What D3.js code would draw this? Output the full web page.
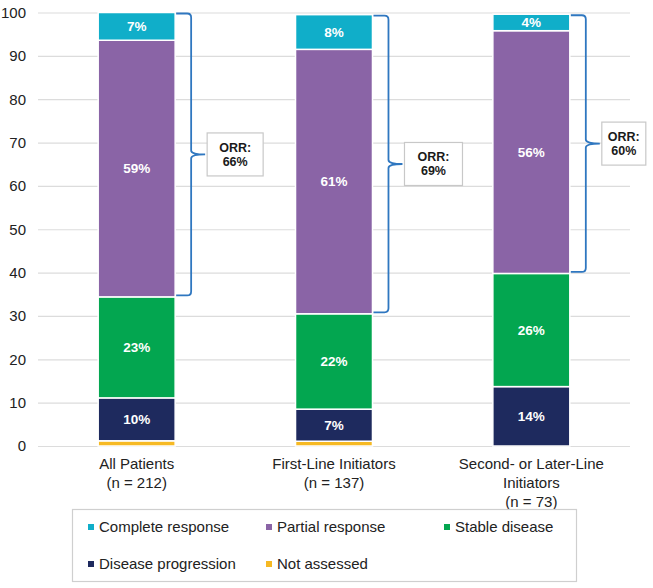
<!DOCTYPE html>
<html>
<head>
<meta charset="utf-8">
<script src="https://cdn.jsdelivr.net/npm/d3@7"></script>
<style>
  html, body { margin: 0; padding: 0; background: #fff; }
  svg { display: block; font-family: "Liberation Sans", Arial, sans-serif; }
</style>
</head>
<body>
<svg id="chart" width="653" height="588"></svg>
<script>
const categories = ["All Patients", "First-Line Initiators", "Second- or Later-Line Initiators"];
const categoryLines = [["All Patients", "(n = 212)"], ["First-Line Initiators", "(n = 137)"], ["Second- or Later-Line", "Initiators", "(n = 73)"]];
const seriesNames = ["Not assessed", "Disease progression", "Stable disease", "Partial response", "Complete response"];
const notAssessed = [1.2, 1.1, 0];
const diseaseProgression = [9.9, 7.4, 13.7];
const stableDisease = [23.3, 22.0, 26.1];
const partialResponse = [59.2, 61.0, 56.0];
const completeResponse = [6.4, 8.0, 3.8];
const notAssessedLabels = ["", "", ""];
const diseaseProgressionLabels = ["10%", "7%", "14%"];
const stableDiseaseLabels = ["23%", "22%", "26%"];
const partialResponseLabels = ["59%", "61%", "56%"];
const completeResponseLabels = ["7%", "8%", "4%"];
const orrLabels = ["66%", "69%", "60%"];
const yTicks = [0, 10, 20, 30, 40, 50, 60, 70, 80, 90, 100];
const legendOrder = ["Complete response", "Partial response", "Stable disease", "Disease progression", "Not assessed"];

const seriesValues = [notAssessed, diseaseProgression, stableDisease, partialResponse, completeResponse];
const seriesLabels = [notAssessedLabels, diseaseProgressionLabels, stableDiseaseLabels, partialResponseLabels, completeResponseLabels];
const colors = {
  "Complete response": "#10aec9",
  "Partial response": "#8a64a6",
  "Stable disease": "#03a650",
  "Disease progression": "#1e2a5e",
  "Not assessed": "#f6b923"
};

const svg = d3.select("#chart");
const plotLeft = 38, plotRight = 630, plotTop = 12.5, plotBottom = 446;

const x = d3.scaleBand().domain(categories).range([plotLeft, plotRight]).paddingInner(0.61).paddingOuter(0.305);
const y = d3.scaleLinear().domain([0, 100]).range([plotBottom, plotTop]);

// grid + y axis
const yAxis = d3.axisLeft(y).tickValues(yTicks).tickSize(-(plotRight - plotLeft)).tickPadding(12).tickFormat(d3.format("d"));
const gy = svg.append("g").attr("transform", `translate(${plotLeft},0)`).call(yAxis);
gy.select(".domain").remove();
gy.selectAll(".tick line").attr("stroke", "#dcdcdc").attr("stroke-width", 1.2);
gy.selectAll(".tick text").attr("fill", "#222").attr("font-size", 15).attr("font-family", "Liberation Sans, Arial, sans-serif");

// stacked data
const rows = categories.map((c, i) => {
  const o = { category: c };
  seriesNames.forEach((s, j) => o[s] = seriesValues[j][i]);
  return o;
});
const stack = d3.stack().keys(seriesNames)(rows);

const gBars = svg.append("g");
stack.forEach((layer, j) => {
  const name = seriesNames[j];
  layer.forEach((d, i) => {
    if (d[1] - d[0] <= 0) return;
    gBars.append("rect")
      .attr("x", x(categories[i]))
      .attr("width", x.bandwidth())
      .attr("y", y(d[1]))
      .attr("height", y(d[0]) - y(d[1]))
      .attr("fill", colors[name])
      .attr("stroke", "#fff")
      .attr("stroke-width", 1.5);
    const lab = seriesLabels[j][i];
    if (lab) {
      gBars.append("text")
        .attr("x", x(categories[i]) + x.bandwidth() / 2)
        .attr("y", (y(d[0]) + y(d[1])) / 2)
        .attr("dy", "0.36em")
        .attr("text-anchor", "middle")
        .attr("fill", "#fff")
        .attr("font-weight", "bold")
        .attr("font-size", 13.5)
        .text(lab);
    }
  });
});

// ORR brackets
const prIdx = seriesNames.indexOf("Partial response");
const crIdx = seriesNames.indexOf("Complete response");
const boxWidths = [56, 58, 44];
categories.forEach((c, i) => {
  const yTop = y(stack[crIdx][i][1]) + 1;
  const yBot = y(stack[prIdx][i][0]) - 1.5;
  const x0 = x(c) + x.bandwidth() + 1;
  const xv = x(c) + x.bandwidth() + 16;
  const xt = xv + 14;
  const ym = (yTop + yBot) / 2;
  const r = 4;
  const path = `M${x0},${yTop} L${xv - r},${yTop} Q${xv},${yTop} ${xv},${yTop + r}
    L${xv},${ym - 4} Q${xv},${ym} ${xt},${ym} Q${xv},${ym} ${xv},${ym + 4}
    L${xv},${yBot - r} Q${xv},${yBot} ${xv - r},${yBot} L${x0},${yBot}`;
  svg.append("path").attr("d", path).attr("fill", "none").attr("stroke", "#2f77c0").attr("stroke-width", 1.8);
  const bw = boxWidths[i], bh = 43;
  const bx = xt + 2;
  svg.append("rect").attr("x", bx).attr("y", ym - bh / 2).attr("width", bw).attr("height", bh)
    .attr("fill", "#fff").attr("stroke", "#c8c8c8").attr("stroke-width", 1.2);
  const t = svg.append("text").attr("text-anchor", "middle").attr("font-weight", "bold").attr("font-size", 12.5).attr("fill", "#1a1a1a");
  t.append("tspan").attr("x", bx + bw / 2).attr("y", ym - 7 + 4.5).text("ORR:");
  t.append("tspan").attr("x", bx + bw / 2).attr("y", ym + 7 + 4.5).text(orrLabels[i]);
});

// x labels
categories.forEach((c, i) => {
  const t = svg.append("text").attr("text-anchor", "middle").attr("font-size", 15).attr("fill", "#222");
  categoryLines[i].forEach((line, k) => {
    t.append("tspan").attr("x", x(c) + x.bandwidth() / 2).attr("y", 469 + k * 19).text(line);
  });
});

// legend
svg.append("rect").attr("x", 72.5).attr("y", 509.5).attr("width", 504).attr("height", 72)
  .attr("fill", "none").attr("stroke", "#cfcfcf").attr("stroke-width", 1.2);
legendOrder.forEach((name, k) => {
  const col = k % 3, row = Math.floor(k / 3);
  const lx = 88 + col * 178, ly = 527 + row * 37;
  svg.append("rect").attr("x", lx).attr("y", ly - 3).attr("width", 6).attr("height", 6).attr("fill", colors[name]);
  svg.append("text").attr("x", lx + 11).attr("y", ly).attr("dy", "0.36em").attr("font-size", 15).attr("fill", "#222").text(name);
});
</script>
</body>
</html>
